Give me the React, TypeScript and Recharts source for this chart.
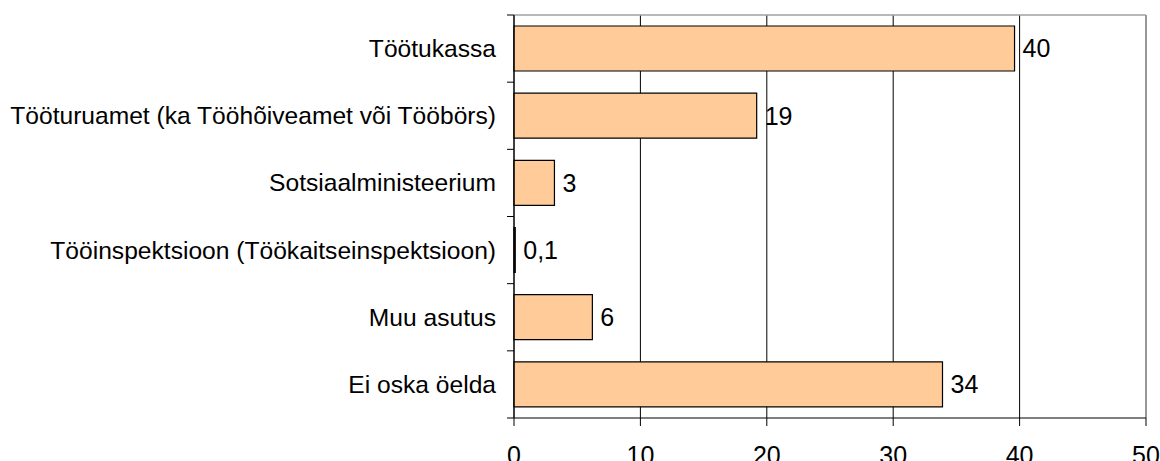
import React from 'react';
import {
  BarChart,
  Bar,
  XAxis,
  YAxis,
  CartesianGrid,
  ReferenceLine,
  LabelList,
} from 'recharts';

const categories = [
  'Töötukassa',
  'Tööturuamet (ka Tööhõiveamet või Tööbörs)',
  'Sotsiaalministeerium',
  'Tööinspektsioon (Töökaitseinspektsioon)',
  'Muu asutus',
  'Ei oska öelda',
];
const values = [39.6, 19.2, 3.2, 0.1, 6.2, 33.9];
const valueLabels = ['40', '19', '3', '0,1', '6', '34'];
const xTicks = [0, 10, 20, 30, 40, 50];

const WIDTH = 1160;
const HEIGHT = 461;
const MARGIN = { top: 14, right: 14, bottom: 0, left: 0 };
const Y_AXIS_W = 514;
const X_AXIS_H = 43;
const TOP_AXIS_H = 1;
const TICK_SIZE = 7;
const TICK_MARGIN = 11;
const BAND =
  (HEIGHT - MARGIN.top - TOP_AXIS_H - MARGIN.bottom - X_AXIS_H) / categories.length;

const FONT = '"Liberation Sans", Arial, sans-serif';

const data = categories.map((name, i) => ({
  name,
  value: values[i],
  label: valueLabels[i],
}));

function CategoryTick(props: any) {
  const { x, y, payload } = props;
  const lineX1 = x + TICK_MARGIN;
  const lineX2 = lineX1 + TICK_SIZE;
  const isLast = payload.value === categories[categories.length - 1];
  return (
    <g>
      <line x1={lineX1} x2={lineX2} y1={y - BAND / 2} y2={y - BAND / 2} stroke="#000" />
      {isLast && (
        <line x1={lineX1} x2={lineX2} y1={y + BAND / 2} y2={y + BAND / 2} stroke="#000" />
      )}
      <text x={x} y={y} textAnchor="end" dominantBaseline="central" fill="#000" fontSize={24.6} fontFamily={FONT}>
        {payload.value}
      </text>
    </g>
  );
}

export default function App() {
  return (
    <div style={{ position: 'absolute', top: 0, left: 0, background: '#fff' }}>
      <BarChart width={WIDTH} height={HEIGHT} data={data} layout="vertical" margin={MARGIN}>
        <CartesianGrid horizontal={false} vertical stroke="#000" />
        <XAxis
          type="number"
          domain={[0, 50]}
          ticks={xTicks}
          height={X_AXIS_H}
          tickSize={8}
          tickMargin={20}
          axisLine={{ stroke: '#000' }}
          tickLine={{ stroke: '#000' }}
          tick={{ fill: '#000', fontSize: 25, fontFamily: FONT }}
          interval={0}
        />
        <XAxis
          xAxisId="top"
          orientation="top"
          type="number"
          domain={[0, 50]}
          height={TOP_AXIS_H}
          tick={false}
          tickLine={false}
          axisLine={{ stroke: '#a0a0a0', strokeWidth: 1.5 }}
        />
        <YAxis
          type="category"
          dataKey="name"
          width={Y_AXIS_W}
          tickSize={TICK_SIZE}
          tickMargin={TICK_MARGIN}
          tickLine={false}
          axisLine={{ stroke: '#000' }}
          tick={<CategoryTick />}
          interval={0}
        />
        <ReferenceLine x={50} stroke="#a0a0a0" strokeWidth={1.5} />
        <Bar dataKey="value" fill="#FFCC99" stroke="#000" strokeWidth={1.2} barSize={45} isAnimationActive={false}>
          <LabelList
            dataKey="label"
            position="right"
            offset={8}
            fill="#000"
            fontSize={25}
            fontFamily={FONT}
          />
        </Bar>
      </BarChart>
    </div>
  );
}
